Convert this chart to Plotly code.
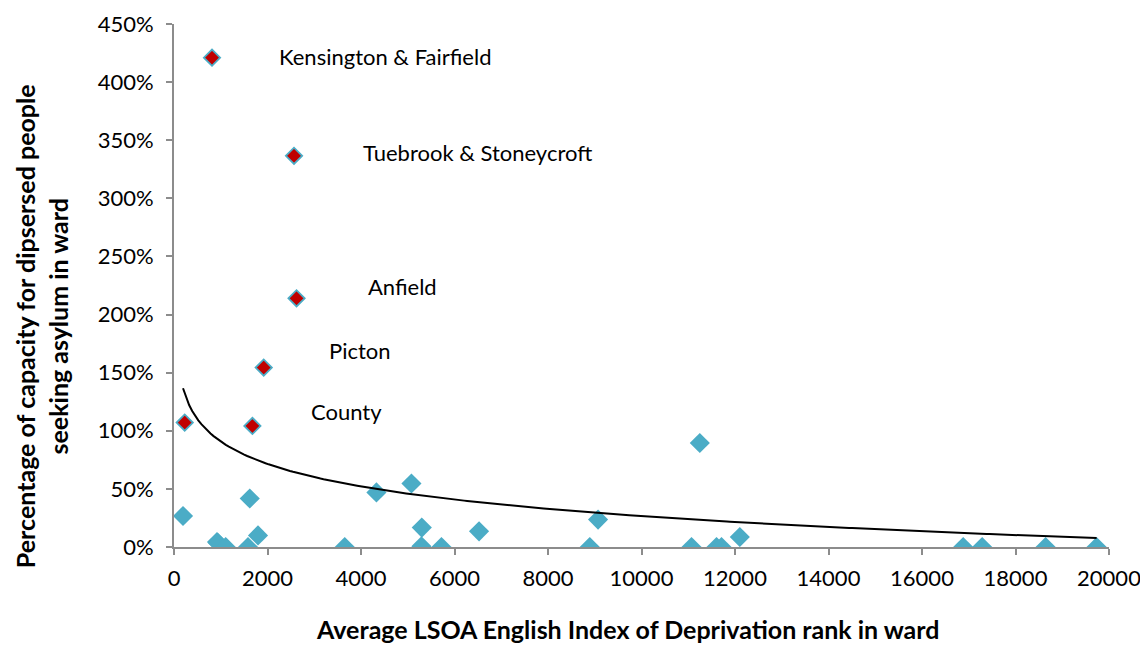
import numpy as np
import plotly.graph_objects as go

# Average LSOA English IoD rank in ward (x) and % capacity (y, fraction)
highlight_x = [813, 2567, 2621, 1919, 229, 1677]
highlight_y = [4.21, 3.366, 2.14, 1.544, 1.071, 1.042]

other_x = [193, 920, 941, 1106, 1583, 1797, 1620, 3652, 4330, 5079, 5300, 5293,
           5721, 6525, 8894, 9071, 11070, 11247, 11605, 11711, 12103, 16881,
           17287, 18644, 19735]
other_y = [0.267, 0.043, 0.034, 0.0, 0.0, 0.10, 0.417, 0.0, 0.47, 0.546, 0.167,
           0.006, 0.0, 0.135, 0.0, 0.236, 0.0, 0.895, 0.0, 0.0, 0.086, 0.0,
           0.0, 0.0, 0.0]

labels = ["Kensington & Fairfield", "Tuebrook & Stoneycroft", "Anfield", "Picton", "County"]
label_x = [2197, 3995, 4101, 3267, 2882]
label_y = [4.22, 3.398, 2.244, 1.693, 1.168]

x_ticks = list(range(0, 20001, 2000))

x_title = "Average LSOA English Index of Deprivation rank in ward"
y_title = "Percentage of capacity for dipsersed people<br>seeking asylum in ward"

FONT = "Lato, 'Open Sans', sans-serif"
BLUE = "#4BACC6"
RED = "#C00000"
AXIS = "#8C8C8C"

# logarithmic trendline fitted on all points
all_x = np.array(highlight_x + other_x, dtype=float)
all_y = np.array(highlight_y + other_y, dtype=float)
b, a = np.polyfit(np.log(all_x), all_y, 1)
tx = np.linspace(all_x.min(), all_x.max(), 300)
ty = a + b * np.log(tx)

fig = go.Figure()
fig.add_trace(go.Scatter(x=other_x, y=other_y, mode="markers",
                         marker=dict(symbol="diamond", size=15.5, color=BLUE,
                                     line=dict(width=0)),
                         showlegend=False))
fig.add_trace(go.Scatter(x=highlight_x, y=highlight_y, mode="markers",
                         marker=dict(symbol="diamond", size=12.5, color=RED,
                                     line=dict(width=1.8, color=BLUE)),
                         showlegend=False))
fig.add_trace(go.Scatter(x=tx, y=ty, mode="lines",
                         line=dict(color="black", width=2), showlegend=False))

for t, lx, ly in zip(labels, label_x, label_y):
    fig.add_annotation(x=lx, y=ly, text=t, showarrow=False, xanchor="left",
                       yanchor="middle", font=dict(size=22, color="black", family=FONT))

# axis titles
fig.add_annotation(xref="paper", yref="paper", x=0.4845, y=-0.157,
                   text="<b>" + x_title + "</b>", showarrow=False,
                   xanchor="center", yanchor="middle",
                   font=dict(size=25, color="black", family=FONT))
fig.add_annotation(xref="paper", yref="paper", x=-0.141, y=0.4226,
                   text="<b>" + y_title + "</b>", showarrow=False, textangle=-90,
                   xanchor="center", yanchor="middle",
                   font=dict(size=25, color="black", family=FONT))

# page body adds an 8px offset, so the figure is 8px smaller on each side
fig.update_layout(
    width=1140, height=638,
    margin=dict(l=166, r=39, t=16, b=99),
    plot_bgcolor="white", paper_bgcolor="white",
    font=dict(family=FONT, size=22, color="black"),
)
fig.update_xaxes(range=[0, 20000], tickvals=x_ticks, ticktext=[str(v) for v in x_ticks],
                 automargin=False,
                 showgrid=False, zeroline=False, showline=True, linecolor=AXIS, linewidth=2,
                 ticks="outside", ticklen=6, tickwidth=2, tickcolor=AXIS,
                 ticklabelstandoff=5,
                 tickfont=dict(size=22))
fig.update_yaxes(range=[0, 4.5], dtick=0.5, tickformat=".0%",
                 automargin=False,
                 showgrid=False, zeroline=False, showline=True, linecolor=AXIS, linewidth=2,
                 ticks="outside", ticklen=6, tickwidth=2, tickcolor=AXIS,
                 ticklabelstandoff=8,
                 tickfont=dict(size=22))

fig.write_html("out.html")
